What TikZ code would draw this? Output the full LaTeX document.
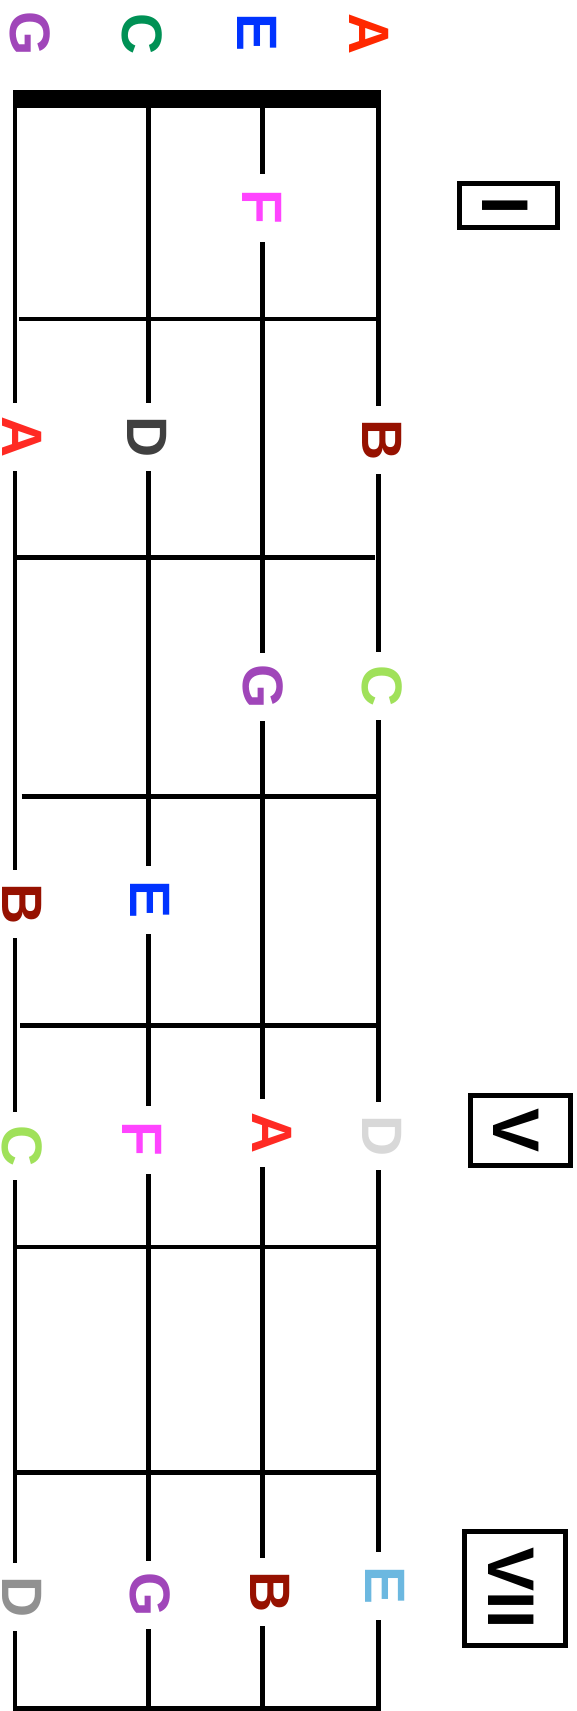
\documentclass[tikz,border=0pt]{standalone}
\usepackage{graphicx}
\usepackage{fontspec}
\setmainfont{Liberation Sans}
\newcommand{\rotlab}[1]{\rotatebox[origin=c]{-90}{#1}}
\definecolor{cG}{RGB}{160,70,185}
\definecolor{cCtop}{RGB}{0,145,85}
\definecolor{cE}{RGB}{0,51,255}
\definecolor{cAtop}{RGB}{255,40,0}
\definecolor{cA}{RGB}{255,42,35}
\definecolor{cF}{RGB}{255,68,255}
\definecolor{cDdark}{RGB}{64,64,64}
\definecolor{cB}{RGB}{150,17,0}
\definecolor{cClight}{RGB}{160,225,90}
\definecolor{cDlight}{RGB}{216,216,216}
\definecolor{cElight}{RGB}{108,184,224}
\definecolor{cDgray}{RGB}{145,145,145}
\begin{document}
\begin{tikzpicture}[x=1pt,y=-1pt,
  strline/.style={line width=4.5pt},
  fretline/.style={line width=4.5pt},
  note/.style={fill=white, inner sep=0pt, minimum width=46pt, minimum height=68pt,
    font=\fontsize{57}{57}\selectfont\bfseries, text=#1},
  opennote/.style={inner sep=0pt, font=\fontsize{57}{57}\selectfont\bfseries, text=#1},
  posbox/.style={draw, line width=5pt, inner sep=0pt},
  roman/.style={inner sep=0pt, font=\fontsize{66}{66}\selectfont\bfseries}
]
\useasboundingbox (0,0) rectangle (576,1711);

% nut
\node[fill=black, inner sep=0pt, minimum width=368pt, minimum height=18pt] (nut) at (196.75,99) {};

% strings
\coordinate (s1t) at (15,90);    \coordinate (s1b) at (15,1711);
\coordinate (s2t) at (148.5,90); \coordinate (s2b) at (148.5,1711);
\coordinate (s3t) at (262.5,90); \coordinate (s3b) at (262.5,1711);
\coordinate (s4t) at (378.5,90); \coordinate (s4b) at (378.5,1711);
\draw[strline] (s1t) -- (s1b);
\draw[strline] (s2t) -- (s2b);
\draw[strline] (s3t) -- (s3b);
\draw[strline] (s4t) -- (s4b);

% frets
\draw[fretline] (19,319) coordinate (f1l) -- (377,319) coordinate (f1r);
\draw[fretline] (15,557.5) coordinate (f2l) -- (375,557.5) coordinate (f2r);
\draw[fretline] (21.5,796.5) coordinate (f3l) -- (378.5,796.5) coordinate (f3r);
\draw[fretline] (20,1025.5) coordinate (f4l) -- (378.5,1025.5) coordinate (f4r);
\draw[fretline] (15,1247) coordinate (f5l) -- (378.5,1247) coordinate (f5r);
\draw[fretline] (15,1472.5) coordinate (f6l) -- (378.5,1472.5) coordinate (f6r);
\draw[fretline] (12.75,1708.7) coordinate (bl) -- (380.75,1708.7) coordinate (br);

% open strings
\node[opennote=cG]    (oG) at (30,34)  {\rotlab{G}};
\node[opennote=cCtop] (oC) at (142,34) {\rotlab{C}};
\node[opennote=cE]    (oE) at (257,33) {\rotlab{E}};
\node[opennote=cAtop] (oA) at (369,34) {\rotlab{A}};

% fretted notes
\node[note=cF] (n1F) at (262.5,208) {\rotlab{F}};

\node[note=cA]     (n2A) at (22,437)  {\rotlab{A}};
\node[note=cDdark] (n2D) at (147,437) {\rotlab{D}};
\node[note=cB]     (n2B) at (382,440) {\rotlab{B}};

\node[note=cG]      (n3G) at (263,687) {\rotlab{G}};
\node[note=cClight] (n3C) at (382,686) {\rotlab{C}};

\node[note=cB] (n4B) at (22,904)  {\rotlab{B}};
\node[note=cE] (n4E) at (150,900) {\rotlab{E}};

\node[note=cClight] (n5C) at (22,1146)  {\rotlab{C}};
\node[note=cF]      (n5F) at (142,1140) {\rotlab{F}};
\node[note=cA]      (n5A) at (272,1133) {\rotlab{A}};
\node[note=cDlight] (n5D) at (382,1136) {\rotlab{D}};

\node[note=cDgray]  (n6D) at (22,1597)  {\rotlab{D}};
\node[note=cG]      (n6G) at (150,1595) {\rotlab{G}};
\node[note=cB]      (n6B) at (270,1592) {\rotlab{B}};
\node[note=cElight] (n6E) at (385,1586) {\rotlab{E}};

% position boxes
\node[posbox, minimum width=98.5pt, minimum height=44.5pt] (pI) at (508.5,205.5) {};
\node[roman] (tI) at ([xshift=-3pt,yshift=-7pt]pI.center) {\rotlab{I}};
\node[posbox, minimum width=100.5pt, minimum height=70.5pt] (pV) at (520.4,1130.5) {};
\node[roman] (tV) at ([xshift=-4pt]pV.center) {\rotlab{V}};
\node[posbox, minimum width=101pt, minimum height=114pt] (pVII) at (514.8,1588) {};
\node[roman] (tVII) at ([xshift=-4pt]pVII.center) {\rotlab{VII}};
\end{tikzpicture}
\end{document}
